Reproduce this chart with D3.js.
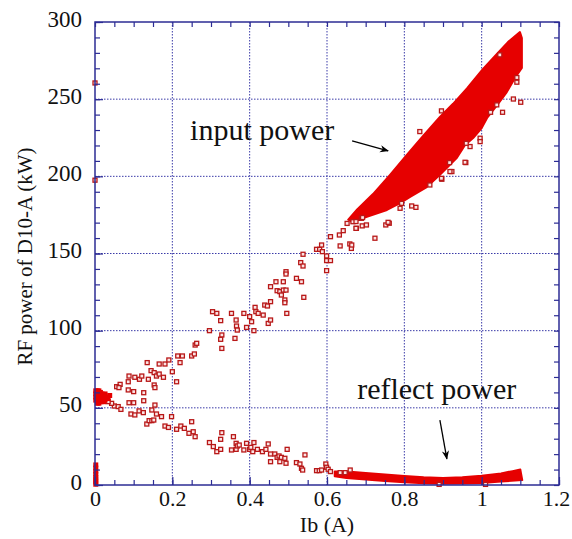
<!DOCTYPE html>
<html>
<head>
<meta charset="utf-8">
<script src="https://cdn.jsdelivr.net/npm/d3@7"></script>
<style>
  body { margin: 0; background: #fff; }
  svg { display: block; }
  svg text { font-family: "Liberation Serif", "Times New Roman", Times, "DejaVu Serif", serif; fill: #111; }
</style>
</head>
<body>
<div id="chart"></div>
<script>
const WIDTH = 572, HEIGHT = 539;
const MARGIN = { top: 22, right: 13, bottom: 54, left: 95 };
const INNER_WIDTH = WIDTH - MARGIN.left - MARGIN.right;
const INNER_HEIGHT = HEIGHT - MARGIN.top - MARGIN.bottom;

// tick values
const xMajor = [0, 0.2, 0.4, 0.6, 0.8, 1, 1.2];
const yMajor = [0, 50, 100, 150, 200, 250, 300];
const xGrid = [0.2, 0.4, 0.6, 0.8, 1];
const yGrid = [50, 100, 150, 200, 250];

// dense input power band (outline), [Ib, kW]
const inputUpper = [[0.655, 172], [0.678, 178.5], [0.719, 188.5], [0.763, 201], [0.807, 214], [0.848, 226],
  [0.892, 238.5], [0.926, 247], [0.962, 257], [1.003, 269.5], [1.04, 279.5], [1.068, 287], [1.099, 293.5]];
const inputLower = [[1.104, 289.6], [1.104, 270.2], [1.086, 263.7], [1.065, 254.6], [1.04, 246.2], [1.014, 237.8],
  [1.0, 231.3], [0.978, 224.8], [0.957, 220.3], [0.936, 212], [0.892, 201], [0.858, 193], [0.815, 186.6],
  [0.789, 182.7], [0.755, 178.2], [0.703, 173.7], [0.667, 170.4]];

// dense reflect power band
const reflectUpper = [[0.62, 8.8], [0.66, 8.6], [0.7, 7.8], [0.75, 6.8], [0.8, 5.8], [0.85, 5], [0.9, 4.6],
  [0.95, 5], [1.0, 6], [1.05, 7.5], [1.08, 9], [1.1, 10]];
const reflectLower = [[1.105, 3.2], [1.05, 2.2], [1.0, 1.3], [0.95, 0.9], [0.9, 0.8], [0.85, 1.1], [0.8, 1.7],
  [0.75, 2.6], [0.7, 3.6], [0.65, 4.6], [0.62, 5.6]];

// scattered points, input branch
const inputPoints = [[0.135, 79.3], [0.166, 78.4], [0.181, 78.4], [0.191, 81], [0.088, 70.6], [0.103, 69.8],
  [0.115, 68.5], [0.121, 70.6], [0.138, 68.5], [0.145, 74.1], [0.153, 72.8], [0.159, 70.6], [0.166, 71.9],
  [0.177, 69.8], [0.2, 73.4], [0.065, 65.2], [0.056, 63.7], [0.062, 63.1], [0.086, 66.9], [0.086, 61.6],
  [0.1, 60.5], [0.126, 59.8], [0.153, 64.8], [0.155, 63.1], [0.211, 66.9], [0.214, 83.6], [0.226, 83.6],
  [0.22, 79.3], [0.25, 83.6], [0.257, 84.9], [0.259, 90.7], [0.263, 91.8],
  [0.304, 112.3], [0.315, 111.2], [0.325, 106.5], [0.353, 111.2], [0.365, 106.9], [0.366, 103], [0.368, 100.4],
  [0.362, 95], [0.328, 97.2], [0.325, 94.4], [0.328, 88.5], [0.296, 100], [0.385, 111.2], [0.392, 102.1],
  [0.4, 109.1], [0.405, 105.8], [0.411, 100], [0.414, 115.1], [0.416, 112.3], [0.422, 111.2], [0.435, 110.1],
  [0.448, 104.7], [0.454, 106.9], [0.439, 116.6], [0.446, 116], [0.454, 118.8], [0.454, 128.5], [0.468, 131.7],
  [0.471, 125.9], [0.478, 125.3], [0.482, 123.1], [0.487, 126.3], [0.494, 126.3], [0.487, 131.7], [0.491, 119.9],
  [0.491, 118.1], [0.494, 138.2], [0.494, 136.7], [0.496, 111.2], [0.521, 133.9], [0.534, 131.7], [0.532, 144.1],
  [0.538, 141.9], [0.538, 149.5], [0.54, 121.6], [0.573, 152.7], [0.581, 152.7], [0.586, 155.5], [0.588, 151.2],
  [0.599, 148.4], [0.599, 145.4], [0.609, 145.4], [0.599, 138.9], [0.609, 160.9], [0.632, 162], [0.634, 154.9],
  [0.642, 164.8], [0.652, 169.5], [0.659, 156.2], [0.663, 153.3], [0.667, 170.6], [0.676, 166.3],
  [0.675, 170.7], [0.689, 172.8], [0.675, 166.3], [0.691, 167.9], [0.702, 168.5], [0.664, 155.5],
  [0.724, 159.9], [0.752, 168.5], [0.761, 169.6], [0.789, 179.3], [0.793, 182.5], [0.819, 180.8], [0.83, 179.9],
  [0.866, 194.4], [0.897, 198.1], [0.923, 203.1], [0.917, 208.9], [0.959, 208.9], [0.84, 229], [0.896, 242.4],
  [0.918, 203.1], [0.896, 198.7], [0.957, 209.1], [0.97, 219.3], [0.96, 221.4], [0.996, 224.7], [0.996, 222.5],
  [1.023, 241.5], [1.039, 246.3], [1.054, 241.5], [1.082, 250.1], [1.101, 248], [1.091, 261], [1.091, 264],
  [1.047, 278.7], [0.758, 170.2], [0.692, 173.3], [0.0, 260.5], [0.0, 197.5]];

// scattered points, reflect branch
const reflectPoints = [[0.093, 46], [0.103, 45.4], [0.114, 48], [0.125, 46.9], [0.134, 39.5], [0.14, 41.7],
  [0.147, 41.7], [0.152, 42.1], [0.147, 48.6], [0.159, 46], [0.172, 44.3], [0.181, 38.2], [0.19, 37.3],
  [0.198, 44.3], [0.211, 36.1], [0.222, 38.2], [0.231, 36.7], [0.25, 41], [0.254, 34.5], [0.243, 33.5],
  [0.259, 31.3], [0.088, 53.3], [0.1, 53.3], [0.126, 54.6], [0.155, 51.8], [0.05, 51.2], [0.06, 50.8],
  [0.067, 49], [0.043, 52.9], [0.034, 54],
  [0.296, 27.5], [0.306, 24.9], [0.315, 21.6], [0.325, 23.1], [0.328, 33.9], [0.325, 29.6], [0.353, 22.7],
  [0.358, 31.3], [0.365, 27], [0.365, 23.1], [0.368, 25.3], [0.373, 25.9], [0.385, 22.7], [0.392, 27],
  [0.4, 23.1], [0.403, 24.4], [0.411, 27.5], [0.408, 21.6], [0.42, 23.1], [0.433, 21.6], [0.442, 23.1],
  [0.448, 26.6], [0.454, 20.1], [0.454, 15.1], [0.465, 20.1], [0.471, 17.9], [0.476, 18.8], [0.482, 17.9],
  [0.491, 17.3], [0.478, 15.1], [0.494, 14.1], [0.497, 23.1], [0.521, 14.5], [0.53, 13.6], [0.534, 10.8],
  [0.537, 9.7], [0.543, 19.5], [0.573, 9.3], [0.58, 9.3], [0.586, 9.7], [0.597, 13.6], [0.599, 11.5],
  [0.603, 10.2], [0.609, 8.7], [0.634, 8], [0.647, 8], [0.66, 9.7], [0.89, 0.4], [1.01, 0.4]];

// solid cluster near Ib = 0
const clusterPoints = [[0.002, 55], [0.002, 57], [0.002, 59], [0.002, 61], [0.006, 53], [0.006, 56], [0.006, 59],
  [0.006, 61], [0.01, 53], [0.01, 55], [0.01, 57], [0.01, 59], [0.01, 61], [0.014, 54], [0.014, 56], [0.014, 58],
  [0.014, 60], [0.018, 54], [0.018, 56.5], [0.018, 59], [0.022, 54], [0.022, 56], [0.022, 58], [0.026, 55],
  [0.026, 59], [0.03, 57], [0.034, 56], [0.038, 58], [0.002, 0.5], [0.002, 2], [0.002, 3.5], [0.002, 5],
  [0.002, 7], [0.002, 9], [0.002, 11], [0.002, 13]];

const svg = d3.select("#chart")
  .append("svg")
  .attr("width", WIDTH)
  .attr("height", HEIGHT)
  .append("g")
  .attr("transform", `translate(${MARGIN.left}, ${MARGIN.top})`);

const x = d3.scaleLinear().domain([0, 1.2]).range([0, INNER_WIDTH]);
const y = d3.scaleLinear().domain([0, 300]).range([INNER_HEIGHT, 0]);

const navy = "#2c2c94";

// grid
svg.append("g").selectAll("line")
  .data(xGrid)
  .join("line")
  .attr("x1", d => x(d)).attr("x2", d => x(d))
  .attr("y1", 0).attr("y2", INNER_HEIGHT)
  .attr("stroke", "#3a3aa8").attr("stroke-width", 1).attr("stroke-dasharray", "1.5,1.5");

svg.append("g").selectAll("line")
  .data(yGrid)
  .join("line")
  .attr("x1", 0).attr("x2", INNER_WIDTH)
  .attr("y1", d => y(d)).attr("y2", d => y(d))
  .attr("stroke", "#3a3aa8").attr("stroke-width", 1).attr("stroke-dasharray", "1.5,1.5");

// dense bands
const band = d3.line().x(d => x(d[0])).y(d => y(d[1]));
svg.append("path")
  .attr("d", band(inputUpper.concat(inputLower)) + "Z")
  .attr("fill", "#e60000").attr("stroke", "#e60000").attr("stroke-width", 2).attr("stroke-linejoin", "round");
svg.append("path")
  .attr("d", band(reflectUpper.concat(reflectLower)) + "Z")
  .attr("fill", "#e60000").attr("stroke", "#e60000").attr("stroke-width", 2).attr("stroke-linejoin", "round");

// open square markers
const sq = 4;
svg.append("g").selectAll("rect")
  .data(inputPoints.concat(reflectPoints))
  .join("rect")
  .attr("x", d => x(d[0]) - sq / 2)
  .attr("y", d => y(d[1]) - sq / 2)
  .attr("width", sq).attr("height", sq)
  .attr("fill", "#fbe4e4")
  .attr("stroke", "#b81818")
  .attr("stroke-width", 1.3);

svg.append("g").selectAll("rect")
  .data(clusterPoints)
  .join("rect")
  .attr("x", d => x(d[0]) - 2.5)
  .attr("y", d => y(d[1]) - 2.5)
  .attr("width", 5).attr("height", 5)
  .attr("fill", "#e60000");

// axes: ticks point inward
const minorX = d3.range(0, 1.2001, 0.05);
const minorY = d3.range(0, 300.01, 10);

function styleAxis(g) {
  g.attr("font-family", null).attr("font-size", null);
  g.select(".domain").remove();
  g.selectAll("line").attr("stroke", navy).attr("stroke-width", 1.2);
}

svg.append("g").attr("transform", `translate(0, ${INNER_HEIGHT})`)
  .call(d3.axisBottom(x).tickValues(minorX).tickSize(-5).tickFormat(""))
  .call(styleAxis);
svg.append("g")
  .call(d3.axisTop(x).tickValues(minorX).tickSize(-5).tickFormat(""))
  .call(styleAxis);
svg.append("g")
  .call(d3.axisLeft(y).tickValues(minorY).tickSize(-5).tickFormat(""))
  .call(styleAxis);
svg.append("g").attr("transform", `translate(${INNER_WIDTH}, 0)`)
  .call(d3.axisRight(y).tickValues(minorY).tickSize(-5).tickFormat(""))
  .call(styleAxis);

// major tick labels
const xAxis = svg.append("g").attr("transform", `translate(0, ${INNER_HEIGHT})`)
  .call(d3.axisBottom(x).tickValues(xMajor).tickSize(-8).tickPadding(5).tickFormat(d3.format("")))
  .call(styleAxis);
xAxis.selectAll("text").style("font-size", "22px")
  .attr("dx", d => d === 1.2 ? "-3px" : null);

const yAxis = svg.append("g")
  .call(d3.axisLeft(y).tickValues(yMajor).tickSize(-8).tickPadding(13))
  .call(styleAxis);
yAxis.selectAll("text").style("font-size", "23px").attr("dy", "0.18em");

// frame
svg.append("rect")
  .attr("width", INNER_WIDTH).attr("height", INNER_HEIGHT)
  .attr("fill", "none").attr("stroke", navy).attr("stroke-width", 1.5);

// axis titles
svg.append("text")
  .attr("x", INNER_WIDTH / 2)
  .attr("y", INNER_HEIGHT + 47)
  .attr("text-anchor", "middle")
  .style("font-size", "22px")
  .text("Ib (A)");

svg.append("text")
  .attr("transform", "rotate(-90)")
  .attr("x", -INNER_HEIGHT / 2 - 3)
  .attr("y", -63)
  .attr("text-anchor", "middle")
  .style("font-size", "21px")
  .text("RF power of D10-A (kW)");

// annotations
svg.append("defs").append("marker")
  .attr("id", "head")
  .attr("viewBox", "0 0 10 10")
  .attr("refX", 9).attr("refY", 5)
  .attr("markerWidth", 9).attr("markerHeight", 9)
  .attr("markerUnits", "userSpaceOnUse")
  .attr("orient", "auto")
  .append("path")
  .attr("d", "M0,1 L10,5 L0,9 L3,5 Z")
  .attr("fill", "#000");

svg.append("text")
  .attr("x", x(0.246)).attr("y", y(223.5))
  .style("font-size", "30px")
  .text("input power");

svg.append("line")
  .attr("x1", x(0.665)).attr("y1", y(223))
  .attr("x2", x(0.758)).attr("y2", y(216.5))
  .attr("stroke", "#000").attr("stroke-width", 1.3)
  .attr("marker-end", "url(#head)");

svg.append("text")
  .attr("x", x(0.678)).attr("y", y(56))
  .style("font-size", "30px")
  .text("reflect power");

svg.append("line")
  .attr("x1", x(0.892)).attr("y1", y(42))
  .attr("x2", x(0.91)).attr("y2", y(17))
  .attr("stroke", "#000").attr("stroke-width", 1.3)
  .attr("marker-end", "url(#head)");
</script>
</body>
</html>
